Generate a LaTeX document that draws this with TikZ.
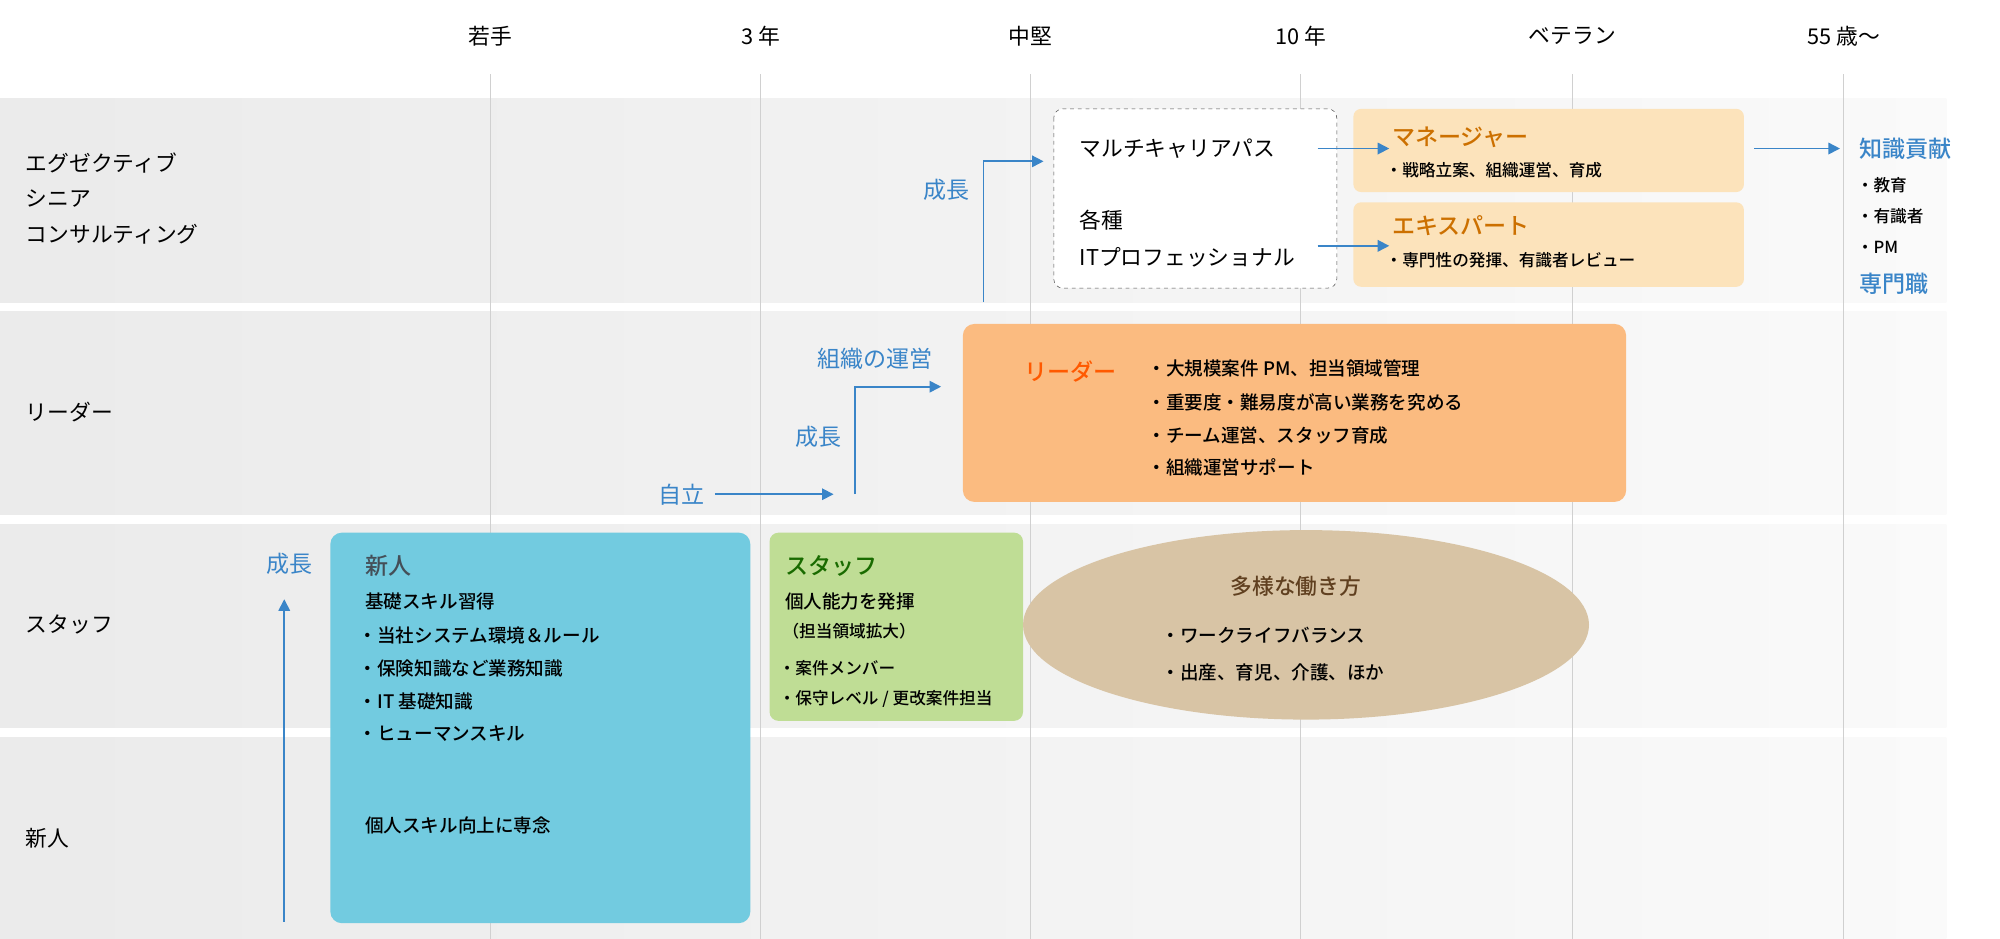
\documentclass[tikz,border=0pt]{standalone}
\usepackage{fontspec}
\setmainfont{Noto Sans CJK JP}
\newfontfamily\jpb{Noto Sans CJK JP Medium}
\usetikzlibrary{arrows.meta,shapes.geometric}
\definecolor{blu}{HTML}{3A85C8}
\definecolor{gl}{HTML}{D0D0D0}
\definecolor{cyanbox}{HTML}{72CBE0}
\definecolor{greenbox}{HTML}{BFDD95}
\definecolor{oran}{HTML}{FBBB80}
\definecolor{pale}{HTML}{FCE3BB}
\definecolor{beige}{HTML}{D8C4A5}
\begin{document}
\begin{tikzpicture}[x=1pt,y=-1pt,
  txt/.style={anchor=west,inner sep=0pt,font=\fontsize{17}{20}\selectfont},
  sm/.style={anchor=west,inner sep=0pt,font=\fontsize{14.5}{17}\selectfont},
  xs/.style={anchor=west,inner sep=0pt,font=\fontsize{13}{15}\selectfont},
  hd/.style={anchor=west,inner sep=0pt,font=\fontsize{18}{21}\selectfont},
  arr/.style={blu,line width=1.3pt,-{Triangle[length=9pt,width=9pt]}},
  band/.style={left color=black!8,right color=black!2,draw=none}]
\useasboundingbox (0,0) rectangle (1562,733);
\fill[white] (0,0) rectangle (1562,733);
\fill[band] (0,77) rectangle (1520,236);
\fill[band] (0,243) rectangle (1520,402);
\fill[band] (0,410) rectangle (1520,568);
\fill[band] (0,576) rectangle (1520,733);
\foreach \x/\t/\n in {383/若手/c1,594/3 年/c2,805/中堅/c3,1016/10 年/c4,1228/ベテラン/c5,1440/55 歳〜/c6}{
  \draw[gl,line width=0.8pt] (\x,58) -- (\x,733);
  \node[font=\fontsize{17}{20}\selectfont,inner sep=0pt] (\n) at (\x,28) {\t};
}
\node[txt] (l1) at (20,127) {エグゼクティブ};
\node[txt] (l2) at (20,155) {シニア};
\node[txt] (l3) at (20,183) {コンサルティング};
\node[txt] (l4) at (20,322) {リーダー};
\node[txt] (l5) at (20,488) {スタッフ};
\node[txt] (l6) at (20,655) {新人};
% new box
\fill[cyanbox,rounded corners=9pt] (258,416) rectangle (586,721);
\node[hd,text=black!75!cyan] (nb) at (285,442) {\jpb 新人};
\node[sm] (n1) at (285,470) {\jpb 基礎スキル習得};
\node[sm] (n2) at (280,496) {\jpb ・当社システム環境＆ルール};
\node[sm] (n3) at (280,522) {\jpb ・保険知識など業務知識};
\node[sm] (n4) at (280,548) {\jpb ・IT 基礎知識};
\node[sm] (n5) at (280,573) {\jpb ・ヒューマンスキル};
\node[sm] (n6) at (285,645) {\jpb 個人スキル向上に専念};
% green
\fill[greenbox,rounded corners=7pt] (601,416) rectangle (799,563);
\node[hd,text=green!40!black!80!olive] (sb) at (613,442) {\jpb スタッフ};
\node[sm] (s1) at (613,470) {\jpb 個人能力を発揮};
\node[xs] (s2) at (611,493) {\jpb （担当領域拡大）};
\node[xs] (s3) at (608,522) {\jpb ・案件メンバー};
\node[xs] (s4) at (608,546) {\jpb ・保守レベル / 更改案件担当};
% ellipse
\node[ellipse,fill=beige,minimum width=442pt,minimum height=148pt] (el) at (1020,488) {};
\node[font=\fontsize{17}{20}\selectfont,text=black!50!brown,inner sep=0pt] (et) at (1012,458) {\jpb 多様な働き方};
\node[sm] (e1) at (907,496) {\jpb ・ワークライフバランス};
\node[sm] (e2) at (907,525) {\jpb ・出産、育児、介護、ほか};
% leader
\fill[oran,rounded corners=9pt] (752,253) rectangle (1270,392);
\node[hd,text=orange!70!red] (lb) at (800,290) {\jpb リーダー};
\node[sm] (r1) at (896,288) {\jpb ・大規模案件 PM、担当領域管理};
\node[sm] (r2) at (896,314) {\jpb ・重要度・難易度が高い業務を究める};
\node[sm] (r3) at (896,340) {\jpb ・チーム運営、スタッフ育成};
\node[sm] (r4) at (896,365) {\jpb ・組織運営サポート};
% dashed
\draw[black!70,dashed,rounded corners=7pt,fill=white] (823,85) rectangle (1044,225);
\node[txt] (mp) at (843,116) {マルチキャリアパス};
\node[txt] (kk) at (843,172) {各種};
\node[txt] (it) at (843,201) {ITプロフェッショナル};
% manager/expert
\fill[pale,rounded corners=6pt] (1057,85) rectangle (1362,150);
\fill[pale,rounded corners=6pt] (1057,158) rectangle (1362,224);
\node[hd,text=orange!90!yellow!80!black] (mg) at (1087,107) {\jpb マネージャー};
\node[xs] (mg1) at (1082,133) {\jpb ・戦略立案、組織運営、育成};
\node[hd,text=orange!90!yellow!80!black] (ex) at (1087,176) {\jpb エキスパート};
\node[xs] (ex1) at (1082,203) {\jpb ・専門性の発揮、有識者レビュー};
\coordinate (mge) at (1085,116);
\coordinate (exe) at (1085,192);
\draw[arr] (1029,116) -- (mge);
\draw[arr] (1029,192) -- (exe);
\coordinate (ks) at (1370,116);
\coordinate (kt) at (1437,116);
\draw[arr] (ks) -- (kt);
\node[hd,text=blu] (kc) at (1452,116) {\jpb 知識貢献};
\node[xs] (k1) at (1450,145) {\jpb ・教育};
\node[xs] (k2) at (1450,169) {\jpb ・有識者};
\node[xs] (k3) at (1450,193) {\jpb ・PM};
\node[hd,text=blu] (k4) at (1452,222) {\jpb 専門職};
% growth arrows
\coordinate (g1a) at (768,236); \coordinate (g1b) at (815,126);
\draw[arr] (g1a) |- (g1b);
\node[hd,text=blu] (g1) at (721,148) {成長};
\coordinate (g2a) at (668,386); \coordinate (g2b) at (735,302);
\draw[arr] (g2a) |- (g2b);
\node[hd,text=blu] (g2) at (621,341) {成長};
\node[hd,text=blu] (so) at (638,280) {組織の運営};
\node[hd,text=blu] (jr) at (514,386) {自立};
\coordinate (jre) at (651,386);
\draw[arr] (jr.east) ++(8,0) -- (jre);
\coordinate (g3a) at (222,720); \coordinate (g3b) at (222,468);
\draw[arr] (g3a) -- (g3b);
\node[hd,text=blu] (g3) at (208,440) {成長};
\end{tikzpicture}
\end{document}
